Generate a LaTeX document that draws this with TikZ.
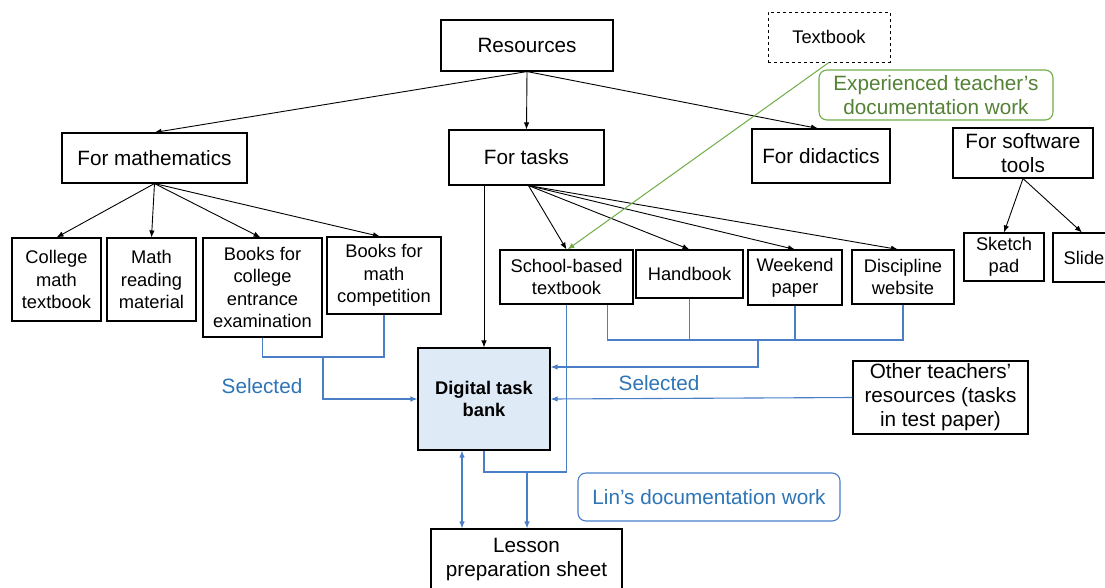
\documentclass[tikz,border=0pt]{standalone}
\usepackage{fontspec}
\setmainfont{Liberation Sans}
\usetikzlibrary{arrows.meta,calc}
\definecolor{lineblue}{HTML}{4A7FC8}
\definecolor{textblue}{HTML}{2E75B6}
\definecolor{lgreen}{HTML}{70AD47}
\definecolor{dgreen}{HTML}{548235}
\definecolor{bankfill}{HTML}{DEEBF7}
\begin{document}
\begin{tikzpicture}[x=1pt,y=-1pt,
  lg/.style={font=\fontsize{20.7}{24}\selectfont},
  sm/.style={font=\fontsize{18.3}{22.3}\selectfont},
  box/.style={draw=black, line width=1.1pt, align=center, inner sep=0pt, anchor=center},
  arr/.style={-{Latex[length=7pt,width=5.5pt]}, line width=0.9pt},
  bl/.style={draw=lineblue, line width=1.1pt},
  blarr/.style={bl, -{Latex[length=7pt,width=5.5pt]}},
  ga/.style={draw=lgreen, line width=1pt, -{Latex[length=7pt,width=5.5pt]}},
]
\clip (0,0) rectangle (1105,587);
\fill[white] (0,0) rectangle (1105,587);

% top level
\node[box,lg,minimum width=172pt,minimum height=51pt] (res) at (527,45.5) {Resources};
\node[box,sm,line width=0.8pt,dashed,minimum width=122pt,minimum height=50pt] (tb) at (829,37) {Textbook};
\node[box,lg,draw=lgreen,text=dgreen,rounded corners=8pt,minimum width=234pt,minimum height=50pt] (exp) at (936,95) {Experienced teacher’s\\documentation work};

% second level
\node[box,lg,minimum width=185pt,minimum height=50pt] (math) at (154.5,158) {For mathematics};
\node[box,lg,minimum width=155pt,minimum height=55pt] (tasks) at (526.5,157.5) {For tasks};
\node[box,lg,minimum width=138pt,minimum height=54pt] (did) at (821,156) {For didactics};
\node[box,lg,minimum width=140pt,minimum height=50pt] (sw) at (1023,153) {For software\\tools};

% math children
\node[box,sm,minimum width=89pt,minimum height=83pt] (col) at (56.5,279.5) {College\\math\\textbook};
\node[box,sm,minimum width=89pt,minimum height=83pt] (read) at (151.5,279.5) {Math\\reading\\material};
\node[box,sm,minimum width=119pt,minimum height=99pt] (bce) at (262.5,287.5) {Books for\\college\\entrance\\examination};
\node[box,sm,minimum width=114pt,minimum height=77pt] (comp) at (384,275.5) {Books for\\math\\competition};

% task children
\node[box,sm,minimum width=133pt,minimum height=54pt] (sch) at (566.5,277) {School-based\\textbook};
\node[box,sm,minimum width=107pt,minimum height=48pt] (hb) at (689.5,274) {Handbook};
\node[box,sm,minimum width=94pt,minimum height=55pt] (wk) at (795,277.5) {Weekend\\paper};
\node[box,sm,minimum width=102pt,minimum height=54pt] (dw) at (903,277) {Discipline\\website};

% software children
\node[box,sm,minimum width=80pt,minimum height=48pt] (sk) at (1004,257) {Sketch\\pad};
\node[box,sm,minimum width=62pt,minimum height=49pt] (sl) at (1084,257.5) {Slide};

% bank and others
\node[box,fill=bankfill,font=\fontsize{18.3}{22.3}\selectfont\bfseries,minimum width=132pt,minimum height=102pt] (bank) at (484,399) {Digital task\\bank};
\node[box,lg,minimum width=175pt,minimum height=73pt] (ot) at (940.5,397.5) {Other teachers’\\resources (tasks\\in test paper)};
\node[box,lg,draw=lineblue,text=textblue,rounded corners=8pt,minimum width=262pt,minimum height=48pt] (lin) at (709,497) {Lin’s documentation work};
\node[box,lg,minimum width=191pt,minimum height=62pt] (lps) at (526.5,560) {Lesson\\preparation sheet};

\node[lg,text=textblue,inner sep=0pt] (sel1) at (262,386) {Selected};
\node[lg,text=textblue,inner sep=0pt] (sel2) at (659,383) {Selected};

% black arrows
\draw[arr] (res.south) -- (math.north);
\draw[arr] (res.south) -- (tasks.north);
\draw[arr] (res.south) -- ([xshift=-3pt]did.north);
\draw[arr] (math.south) -- (col.north);
\draw[arr] (math.south) -- (read.north);
\draw[arr] (math.south) -- ([xshift=-2pt]bce.north);
\draw[arr] (math.south) -- ([xshift=-4pt]comp.north);
\draw[arr] ([xshift=2pt]tasks.south) -- (sch.north);
\draw[arr] ([xshift=2pt]tasks.south) -- (hb.north);
\draw[arr] ([xshift=2pt]tasks.south) -- (wk.north);
\draw[arr] ([xshift=2pt]tasks.south) -- ([xshift=-5pt]dw.north);
\draw[arr] (bank.north |- tasks.south) -- (bank.north);
\draw[arr] (sw.south) -- (sk.north);
\draw[arr] (sw.south) -- ([xshift=-2pt]sl.north);

% green
\draw[ga] (tb.south) -- ([xshift=1pt]sch.north);

% blue connectors
\coordinate (jl) at (323,357);
\draw[bl] (bce.south) |- (jl) -| (comp.south);
\draw[blarr] (jl) |- (bank.west);

\coordinate (schR) at ($(sch.south)!0.61!(sch.south east)$);
\coordinate (jr) at (758,340);
\draw[bl] (schR) |- (jr) -| (dw.south);
\draw[bl] (hb.south) -- (hb.south |- jr);
\draw[bl] (wk.south) -- (wk.south |- jr);
\draw[blarr] (jr) |- ([yshift=32pt]bank.east);
\draw[blarr] (ot.west) -- (bank.east);

\coordinate (jb) at (527,472);
\draw[bl] (bank.south) |- (sch.south |- jb) -- (sch.south);
\draw[blarr] (jb) -- (jb |- lps.north);
\draw[bl, {Latex[length=7pt,width=5.5pt]}-{Latex[length=7pt,width=5.5pt]}] ([xshift=-22pt]bank.south) -- ([xshift=-22pt]bank.south |- lps.north);
\end{tikzpicture}
\end{document}
